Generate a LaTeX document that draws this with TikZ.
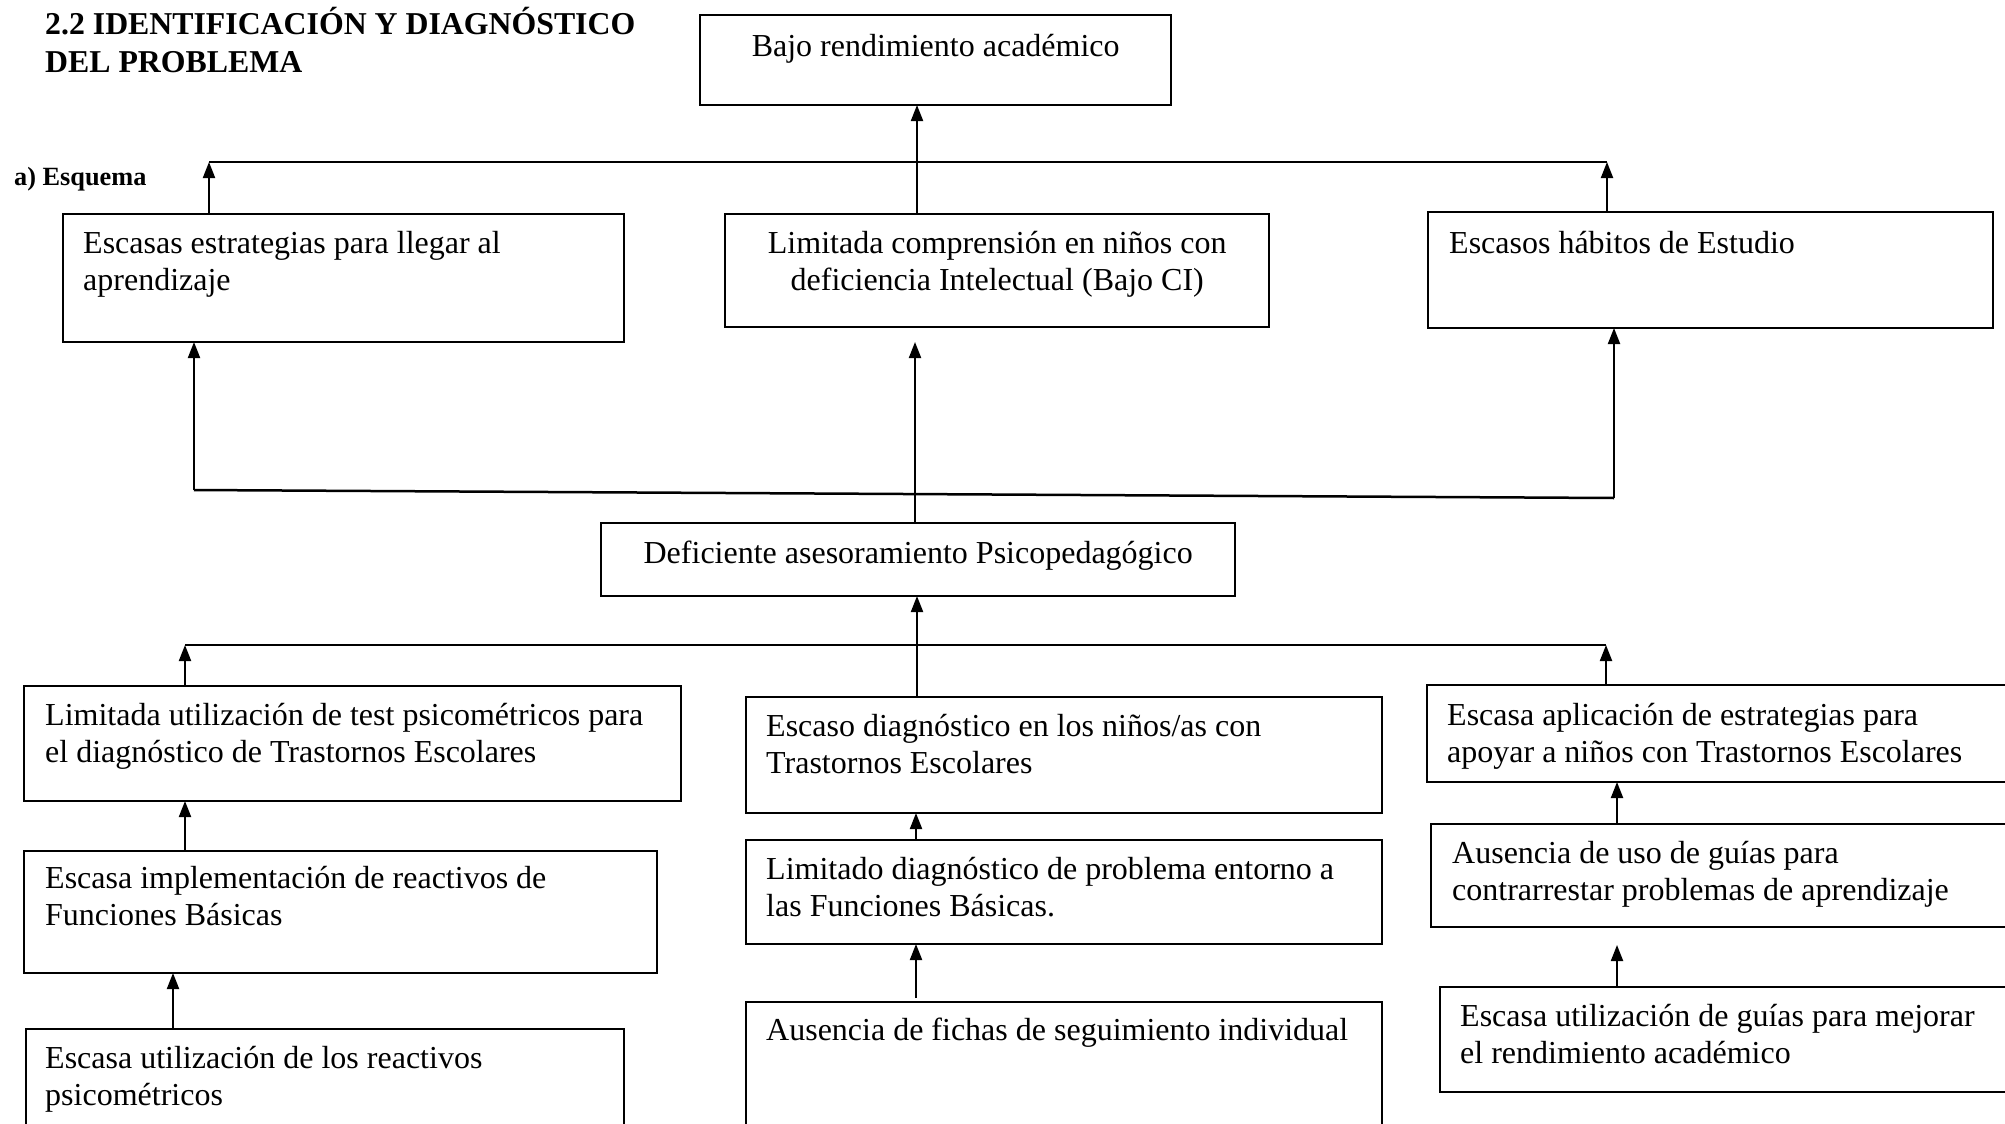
\documentclass[tikz,border=0pt]{standalone}
\usepackage{fontspec}
\setmainfont{Liberation Serif}
\usetikzlibrary{arrows.meta}
\newcommand\bodyfont{\fontsize{32}{37}\selectfont}
\newcommand\mkbox[5]{\node[box,minimum width={(#4)-(#2)},minimum height={(#5)-(#3)}] (#1) at (#2,#3) {};}
\tikzset{
  box/.style={draw=black,line width=2pt,inner sep=0pt,outer sep=0pt,anchor=north west,rectangle},
  txt/.style={inner sep=0pt,anchor=base west,font=\bodyfont},
  arr/.style={line width=2pt,-{Triangle[length=16pt,width=12pt]}},
  ln/.style={line width=2pt},
}
\begin{document}
\begin{tikzpicture}[x=1pt,y=-1pt]
\clip (0,0) rectangle (2005,1124);
\fill[white] (0,0) rectangle (2005,1124);
% title
\node[inner sep=0pt,anchor=base west,font=\fontsize{31.8}{38}\selectfont\bfseries] (title) at (45,35)
  {\parbox[t]{700pt}{2.2 IDENTIFICACIÓN Y DIAGNÓSTICO\\DEL PROBLEMA}};
\node[inner sep=0pt,anchor=base west,font=\fontsize{26.3}{30}\selectfont\bfseries] (esq) at (14,185) {a) Esquema};
% boxes
\mkbox{b1}{700}{15}{1171}{105}
\mkbox{b2}{63}{214}{624}{342}
\mkbox{b3}{725}{214}{1269}{327}
\mkbox{b4}{1428}{212}{1993}{328}
\mkbox{b5}{601}{523}{1235}{596}
\mkbox{b6}{24}{686}{681}{801}
\mkbox{b7}{746}{697}{1382}{813}
\mkbox{b8}{1427}{685}{2020}{782}
\mkbox{b9}{24}{851}{657}{973}
\mkbox{b10}{746}{840}{1382}{944}
\mkbox{b11}{1431}{824}{2020}{927}
\mkbox{b12}{26}{1029}{624}{1140}
\mkbox{b13}{746}{1002}{1382}{1140}
\mkbox{b14}{1440}{987}{2020}{1092}
% texts
\node[txt] (t1) at (700,57) {\parbox[t]{471pt}{\centering Bajo rendimiento académico}};
\node[txt] (t2) at (83,253) {\parbox[t]{600pt}{Escasas estrategias para llegar al\\aprendizaje}};
\node[txt] (t3) at (725,253) {\parbox[t]{544pt}{\centering Limitada comprensión en niños con\\deficiencia Intelectual (Bajo CI)}};
\node[txt] (t4) at (1449,253) {\parbox[t]{600pt}{Escasos hábitos de Estudio}};
\node[txt] (t5) at (601,563) {\parbox[t]{634pt}{\centering Deficiente asesoramiento Psicopedagógico}};
\node[txt] (t6) at (45,725) {\parbox[t]{700pt}{Limitada utilización de test psicométricos para\\el diagnóstico de Trastornos Escolares}};
\node[txt] (t7) at (766,736) {\parbox[t]{700pt}{Escaso diagnóstico en los niños/as con\\Trastornos Escolares}};
\node[txt] (t8) at (1447,725) {\parbox[t]{700pt}{Escasa aplicación de estrategias para\\apoyar a niños con Trastornos Escolares}};
\node[txt] (t9) at (45,888) {\parbox[t]{700pt}{Escasa implementación de reactivos de\\Funciones Básicas}};
\node[txt] (t10) at (766,879) {\parbox[t]{700pt}{Limitado diagnóstico de problema entorno a\\las Funciones Básicas.}};
\node[txt] (t11) at (1452,863) {\parbox[t]{700pt}{Ausencia de uso de guías para\\contrarrestar problemas de aprendizaje}};
\node[txt] (t12) at (45,1068) {\parbox[t]{700pt}{Escasa utilización de los reactivos\\psicométricos}};
\node[txt] (t13) at (766,1040) {\parbox[t]{700pt}{Ausencia de fichas de seguimiento individual}};
\node[txt] (t14) at (1460,1026) {\parbox[t]{700pt}{Escasa utilización de guías para mejorar\\el rendimiento académico}};
% coordinates
\coordinate (tbL) at (209,162);
\coordinate (tbR) at (1607,162);
\coordinate (xa) at (917,0);
\coordinate (mL) at (194,490);
\coordinate (mR) at (1614,498);
\coordinate (xm) at (915,0);
\coordinate (lL) at (185,645);
\coordinate (lR) at (1606,645);
\coordinate (xl) at (917,0);
\coordinate (xc1) at (185,0);
\coordinate (xc2) at (173,0);
\coordinate (xc3) at (916,0);
\coordinate (xc4) at (1617,0);
% top level
\draw[ln] (tbL) -- (tbR);
\draw[arr] (tbL |- b2.north) -- (tbL);
\draw[arr] (tbR |- b4.north) -- (tbR);
\draw[arr] (xa |- b3.north) -- (xa |- b1.south);
% middle level
\draw[line width=2.5pt] (mL) -- (mR);
\draw[arr] (mL) -- (mL |- b2.south);
\draw[arr] (mR) -- (mR |- b4.south);
\draw[arr] (xm |- b5.north) -- ([yshift=-15pt]xm |- b3.south);
% lower level
\draw[ln] (lL) -- (lR);
\draw[arr] (lL |- b6.north) -- (lL);
\draw[arr] (lR |- b8.north) -- (lR);
\draw[arr] (xl |- b7.north) -- (xl |- b5.south);
% columns
\draw[arr] (xc1 |- b9.north) -- (xc1 |- b6.south);
\draw[arr] (xc2 |- b12.north) -- (xc2 |- b9.south);
\draw[arr] (xc3 |- b10.north) -- (xc3 |- b7.south);
\draw[arr] ([yshift=4pt]xc3 |- b13.north) -- (xc3 |- b10.south);
\draw[arr] (xc4 |- b11.north) -- (xc4 |- b8.south);
\draw[arr] (xc4 |- b14.north) -- ([yshift=-18pt]xc4 |- b11.south);
\end{tikzpicture}
\end{document}
